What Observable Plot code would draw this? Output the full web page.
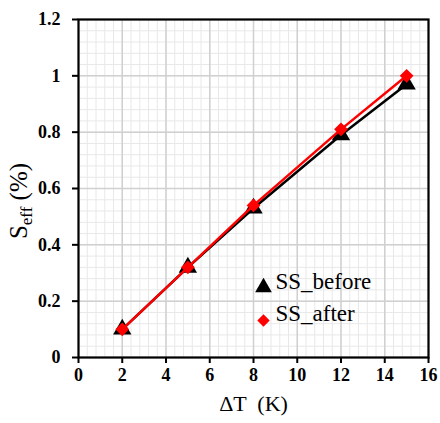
<!DOCTYPE html>
<html>
<head>
<meta charset="utf-8">
<script src="https://cdn.jsdelivr.net/npm/d3@7"></script>
<script src="https://cdn.jsdelivr.net/npm/@observablehq/plot@0.6"></script>
<style>
html,body{margin:0;padding:0;background:#fff;}
#chart svg{display:block;}
</style>
</head>
<body>
<div id="chart"></div>
<script>
const deltaT = [2, 5, 8, 12, 15];
const ssBefore = [0.10, 0.32, 0.53, 0.79, 0.97];
const ssAfter = [0.10, 0.32, 0.54, 0.81, 1.00];
const seriesNames = ["SS_before", "SS_after"];
const seriesColors = ["#000000", "#ff0000"];
const seriesSymbols = ["triangle", "diamond2"];
const xTicks = [0, 2, 4, 6, 8, 10, 12, 14, 16];
const yTicks = [0, 0.2, 0.4, 0.6, 0.8, 1, 1.2];

const before = deltaT.map((t, i) => ({x: t, y: ssBefore[i]}));
const after = deltaT.map((t, i) => ({x: t, y: ssAfter[i]}));
const minorX = d3.range(0, 41).map(i => i * 0.4);
const minorY = d3.range(0, 31).map(i => i * 0.04);

const font = "Times New Roman";

const plot = Plot.plot({
  width: 440,
  height: 423,
  marginLeft: 78,
  marginRight: 12,
  marginTop: 19,
  marginBottom: 66,
  style: {fontFamily: font},
  x: {domain: [0, 16], label: null},
  y: {domain: [0, 1.2], label: null},
  marks: [
    Plot.gridX(minorX, {stroke: "#e8e8e8", strokeOpacity: 1, strokeWidth: 1}),
    Plot.gridY(minorY, {stroke: "#e8e8e8", strokeOpacity: 1, strokeWidth: 1}),
    Plot.gridX(xTicks, {stroke: "#d0d0d0", strokeOpacity: 1, strokeWidth: 1.5}),
    Plot.gridY(yTicks, {stroke: "#d0d0d0", strokeOpacity: 1, strokeWidth: 1.5}),
    Plot.line(before, {x: "x", y: "y", stroke: seriesColors[0], strokeWidth: 2.5}),
    Plot.dot(before, {x: "x", y: "y", symbol: seriesSymbols[0], fill: seriesColors[0], r: 6.8, stroke: "none"}),
    Plot.line(after, {x: "x", y: "y", stroke: seriesColors[1], strokeWidth: 2.5}),
    Plot.dot(after, {x: "x", y: "y", symbol: seriesSymbols[1], fill: seriesColors[1], r: 6.2, stroke: "none"}),
    Plot.frame({stroke: "#000", strokeWidth: 2.2}),
    Plot.axisX(xTicks, {tickSize: 6, tickFormat: d => String(d), fontSize: 18, fontWeight: "bold", fontFamily: font, tickPadding: 5, stroke: "#000", strokeWidth: 2}),
    Plot.axisY(yTicks, {tickSize: 6, tickFormat: d => String(d), fontSize: 18, fontWeight: "bold", fontFamily: font, tickPadding: 12, stroke: "#000", strokeWidth: 2}),
    Plot.dot([seriesNames[0]], {frameAnchor: "bottom-left", dx: 185, dy: -70, symbol: seriesSymbols[0], fill: seriesColors[0], r: 6.2, stroke: "none"}),
    Plot.text([seriesNames[0]], {frameAnchor: "bottom-left", dx: 197, dy: -69, text: d => d, textAnchor: "start", fontSize: 23, fontFamily: font, fill: "#000"}),
    Plot.dot([seriesNames[1]], {frameAnchor: "bottom-left", dx: 185, dy: -37, symbol: seriesSymbols[1], fill: seriesColors[1], r: 5.6, stroke: "none"}),
    Plot.text([seriesNames[1]], {frameAnchor: "bottom-left", dx: 197, dy: -37, text: d => d, textAnchor: "start", fontSize: 23, fontFamily: font, fill: "#000"}),
    Plot.text(["ΔT  (K)"], {frameAnchor: "bottom", dy: 53, text: d => d, fontSize: 22, fontFamily: font, fill: "#000"})
  ]
});

// y axis label with subscript
const svg = d3.select(plot);
const yl = svg.append("text")
  .attr("transform", "translate(27,201) rotate(-90)")
  .attr("text-anchor", "middle")
  .attr("font-family", font)
  .attr("font-size", 25)
  .attr("fill", "#000");
yl.append("tspan").text("S");
yl.append("tspan").attr("font-size", 17).attr("dy", 5).text("eff");
yl.append("tspan").attr("dy", -5).text(" (%)");

document.getElementById("chart").appendChild(plot);
</script>
</body>
</html>
